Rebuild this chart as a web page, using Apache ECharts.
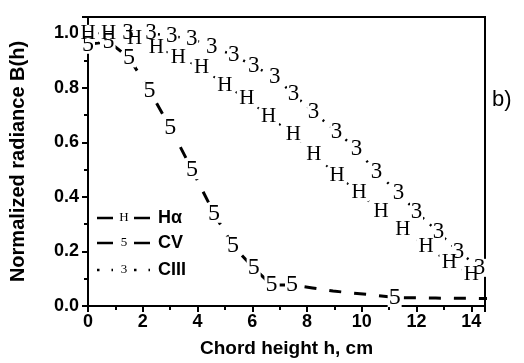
<!DOCTYPE html>
<html>
<head>
<meta charset="utf-8">
<script src="https://cdn.jsdelivr.net/npm/echarts@6/dist/echarts.min.js"></script>
<style>
  html, body { margin: 0; padding: 0; background: #fff; }
  #chart { width: 524px; height: 363px; }
</style>
</head>
<body>
<div id="chart"></div>
<script>
// Halpha
const haX = [0, 0.75, 1.7, 2.5, 3.3, 4.15, 5.0, 5.8, 6.6, 7.5, 8.25, 9.1, 9.9, 10.7, 11.5, 12.35, 13.2, 14.0]
const haY = [1.0, 1.0, 0.98, 0.95, 0.91, 0.875, 0.81, 0.76, 0.695, 0.63, 0.555, 0.48, 0.415, 0.345, 0.28, 0.217, 0.16, 0.115]

// CV (only some points carry a symbol)
const cvX = [0, 0.75, 1.5, 2.25, 3.0, 3.8, 4.6, 5.3, 6.05, 6.7, 7.45, 8.2, 8.95, 9.7, 10.45, 11.2, 11.95, 12.7, 13.45, 14.2, 14.95]
const cvY = [0.96, 0.97, 0.91, 0.79, 0.655, 0.5, 0.34, 0.22, 0.14, 0.077, 0.077, 0.066, 0.055, 0.047, 0.04, 0.031, 0.03, 0.029, 0.028, 0.028, 0.027]
const cvMarked = [1, 1, 1, 1, 1, 1, 1, 1, 1, 1, 1, 0, 0, 0, 0, 1, 0, 0, 0, 0, 0]

// CIII
const c3X = [1.46, 2.3, 3.06, 3.79, 4.52, 5.32, 6.05, 6.82, 7.51, 8.24, 9.08, 9.81, 10.54, 11.34, 12.0, 12.8, 13.53, 14.3]
const c3Y = [1.0, 1.0, 0.99, 0.98, 0.95, 0.92, 0.88, 0.84, 0.776, 0.71, 0.64, 0.575, 0.49, 0.415, 0.345, 0.27, 0.2, 0.14]

const xTicks = [0, 2, 4, 6, 8, 10, 12, 14]
const yTicks = [0.0, 0.2, 0.4, 0.6, 0.8, 1.0]

const chart = echarts.init(document.getElementById('chart'), null, { renderer: 'canvas' })

const serif = 'Liberation Serif'
const sans = 'Liberation Sans'

// each point: white box under a text glyph, like Origin's character symbols
const toPoints = (xs, ys, glyph, fontSize, size, marked) => xs.map((x, i) => {
  const show = marked ? !!marked[i] : true
  return {
    value: [x, ys[i]],
    symbolSize: show ? size : 0,
    label: {
      show: show,
      formatter: '{g|' + glyph + '}',
      position: 'inside',
      rich: {
        g: { fontFamily: serif, fontSize: fontSize, lineHeight: fontSize, color: '#000' }
      }
    }
  }
})

const legendRow = (y, glyph, dash, name) => [
  {
    type: 'line',
    shape: { x1: 97, y1: y, x2: 113, y2: y },
    style: { stroke: '#000', lineWidth: 2.5, lineDash: dash }
  },
  {
    type: 'line',
    shape: { x1: 134, y1: y, x2: 150, y2: y },
    style: { stroke: '#000', lineWidth: 2.5, lineDash: dash }
  },
  {
    type: 'text',
    x: 124, y: y,
    style: { text: glyph, font: '13px ' + serif, fill: '#000', textAlign: 'center', textVerticalAlign: 'middle' }
  },
  {
    type: 'text',
    x: 158, y: y,
    style: { text: name, font: 'bold 18px ' + sans, fill: '#000', textAlign: 'left', textVerticalAlign: 'middle' }
  }
]

const option = {
  animation: false,
  backgroundColor: '#fff',
  grid: {
    left: 87, right: 39, top: 17, bottom: 57,
    show: true, borderColor: '#000', borderWidth: 2
  },
  xAxis: {
    type: 'value',
    min: 0, max: 14.5, interval: 2,
    name: 'Chord height h, cm',
    nameLocation: 'middle',
    nameGap: 33,
    nameTextStyle: { fontFamily: sans, fontWeight: 'bold', fontSize: 19, color: '#000' },
    axisLine: { show: true, onZero: false, lineStyle: { color: '#000', width: 2 } },
    axisTick: { show: true, inside: false, length: 6, lineStyle: { color: '#000', width: 2 } },
    minorTick: { show: true, splitNumber: 2, length: 4, lineStyle: { color: '#000', width: 2 } },
    splitLine: { show: false },
    axisLabel: {
      showMaxLabel: false,
      margin: 7,
      fontFamily: sans, fontWeight: 'bold', fontSize: 18, color: '#000',
      formatter: v => xTicks.includes(v) ? String(v) : ''
    }
  },
  yAxis: {
    type: 'value',
    min: 0, max: 1.06, interval: 0.2,
    name: 'Normalized radiance B(h)',
    nameLocation: 'middle',
    nameGap: 60,
    nameTextStyle: { fontFamily: sans, fontWeight: 'bold', fontSize: 20, color: '#000' },
    axisLine: { show: true, onZero: false, lineStyle: { color: '#000', width: 2 } },
    axisTick: { show: true, inside: false, length: 6, lineStyle: { color: '#000', width: 2 } },
    minorTick: { show: true, splitNumber: 2, length: 4, lineStyle: { color: '#000', width: 2 } },
    splitLine: { show: false },
    axisLabel: {
      showMaxLabel: false,
      margin: 9,
      fontFamily: sans, fontWeight: 'bold', fontSize: 18, color: '#000',
      formatter: v => yTicks.some(t => Math.abs(t - v) < 1e-6) ? v.toFixed(1) : ''
    }
  },
  series: [
    {
      name: 'CV',
      type: 'line',
      data: toPoints(cvX, cvY, '5', 24, [14, 19], cvMarked),
      symbol: 'rect',
      itemStyle: { color: '#fff', borderWidth: 0 },
      lineStyle: { color: '#000', width: 3, type: [12, 13] },
      emphasis: { disabled: true },
      clip: true
    },
    {
      name: 'CIII',
      type: 'line',
      data: toPoints(c3X, c3Y, '3', 23, [13, 18]),
      symbol: 'rect',
      itemStyle: { color: '#fff', borderWidth: 0 },
      lineStyle: { color: '#000', width: 2.5, type: [2, 8] },
      emphasis: { disabled: true },
      clip: true
    },
    {
      name: 'Hα',
      type: 'line',
      data: toPoints(haX, haY, 'H', 21, [20, 17]),
      symbol: 'rect',
      itemStyle: { color: '#fff', borderWidth: 0 },
      lineStyle: { color: '#000', width: 2, type: [2, 7] },
      emphasis: { disabled: true },
      clip: true
    }
  ],
  graphic: [
    ...legendRow(218, 'H', null, 'Hα'),
    ...legendRow(243, '5', null, 'CV'),
    ...legendRow(270, '3', [2.5, 12], 'CIII'),
    {
      type: 'text',
      x: 492, y: 100,
      style: { text: 'b)', font: '22px ' + sans, fill: '#000', textAlign: 'left', textVerticalAlign: 'middle' }
    }
  ]
}

chart.setOption(option)
</script>
</body>
</html>
